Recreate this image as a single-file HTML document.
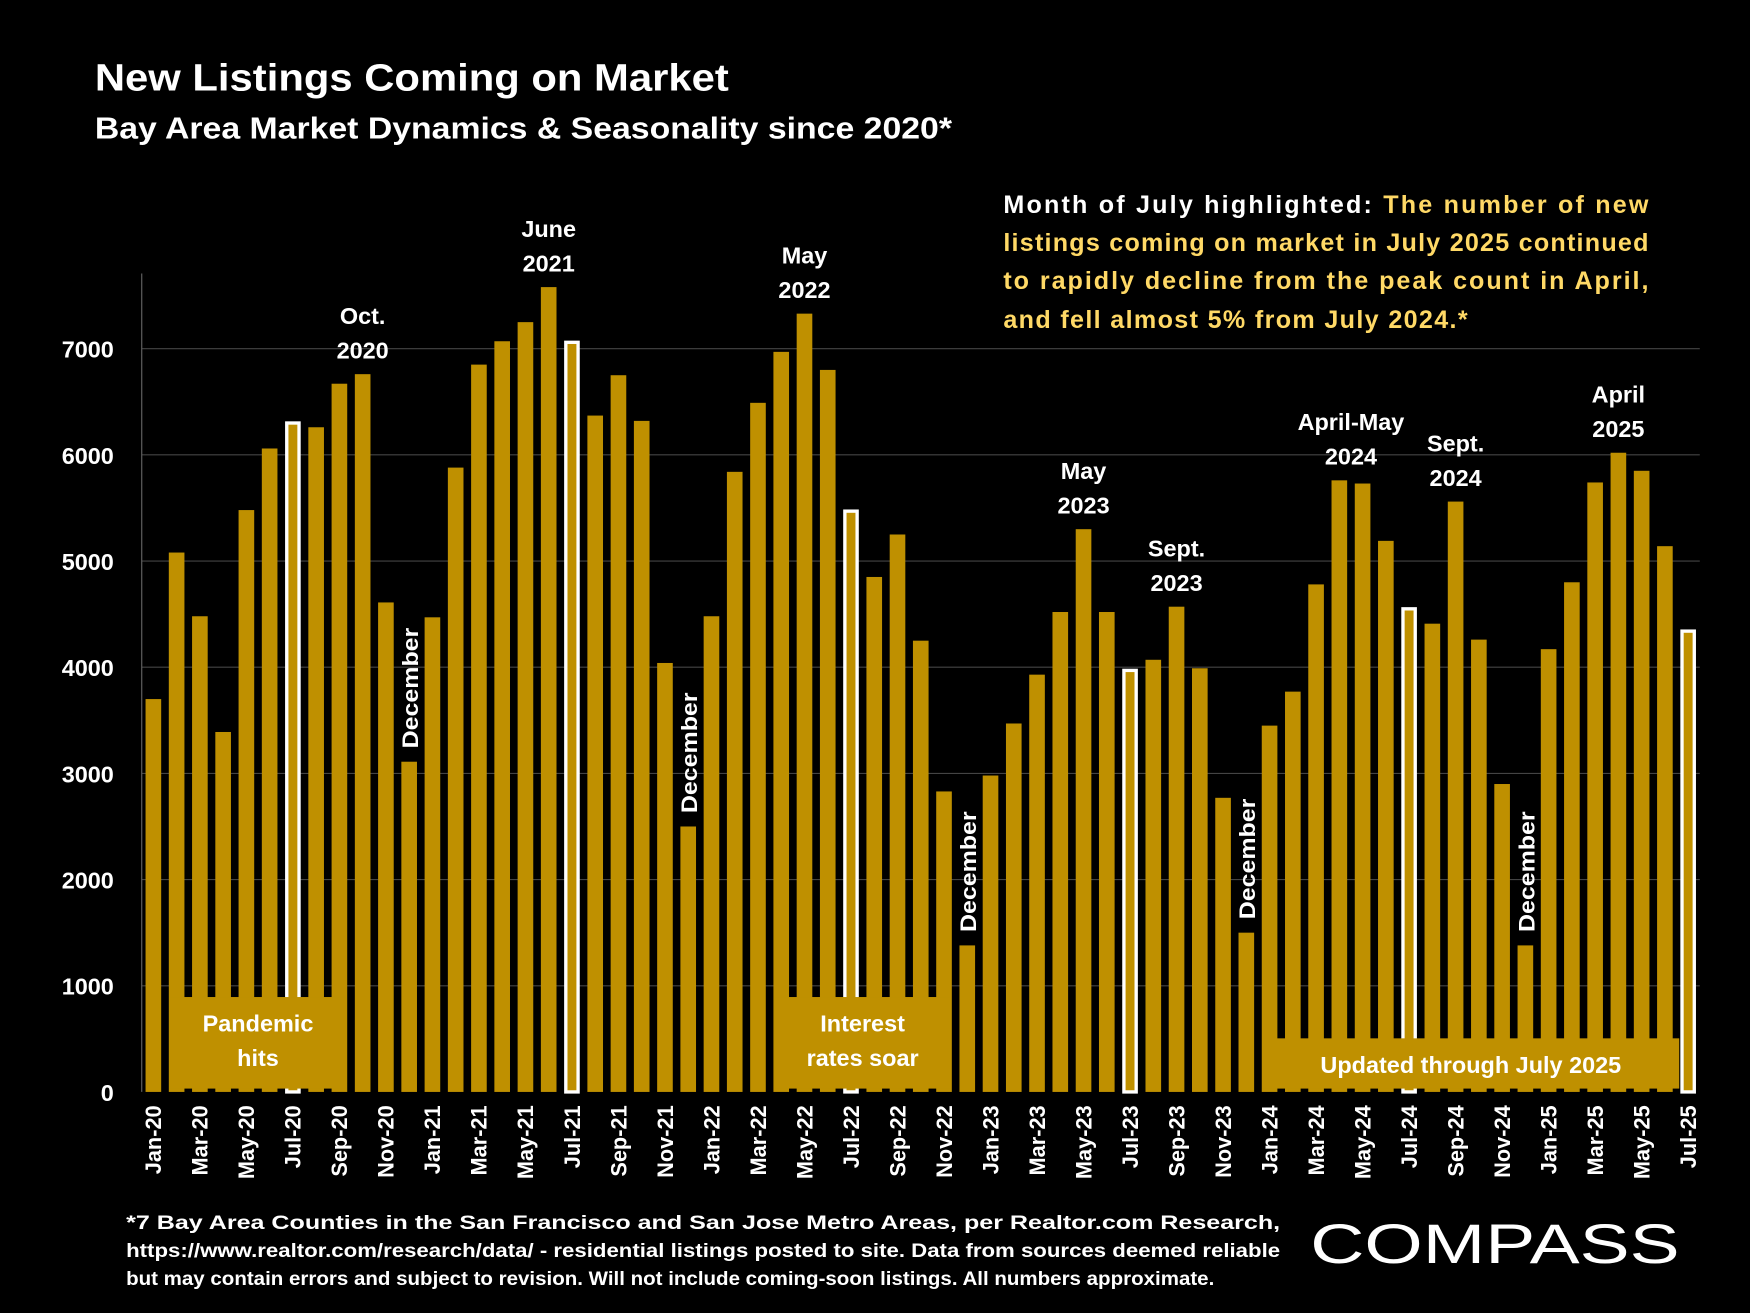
<!DOCTYPE html>
<html><head><meta charset="utf-8"><style>
html,body{margin:0;padding:0;background:#000;}
svg{display:block;}
text{font-family:"Liberation Sans",sans-serif;font-weight:bold;}
</style></head><body>
<svg id="chart" width="1750" height="1313" viewBox="0 0 1568 1176" preserveAspectRatio="none" xmlns="http://www.w3.org/2000/svg">
<rect width="1568" height="1176" fill="#000"/>
<text x="85" y="81" font-size="34" fill="#fff" textLength="568" lengthAdjust="spacingAndGlyphs">New Listings Coming on Market</text>
<text x="85" y="124" font-size="27" fill="#fff" textLength="768" lengthAdjust="spacingAndGlyphs">Bay Area Market Dynamics &amp; Seasonality since 2020*</text>
<g font-size="22.5" fill="#FFD966">
<text x="899" y="191" textLength="578" lengthAdjust="spacing"><tspan fill="#fff">Month of July highlighted:</tspan> The number of new</text>
<text x="899" y="225" textLength="578" lengthAdjust="spacing">listings coming on market in July 2025 continued</text>
<text x="899" y="259" textLength="578" lengthAdjust="spacing">to rapidly decline from the peak count in April,</text>
<text x="899" y="294" textLength="416" lengthAdjust="spacing">and fell almost 5% from July 2024.*</text>
</g>
<g id="grid"></g>
<g id="bars"></g>
<g id="overlays"></g>
<g id="labels"></g>
<g font-size="17.5" fill="#fff">
<text x="113" y="1101" textLength="1034" lengthAdjust="spacingAndGlyphs">*7 Bay Area Counties in the San Francisco and San Jose Metro Areas, per Realtor.com Research,</text>
<text x="113" y="1126" textLength="1034" lengthAdjust="spacingAndGlyphs">https://www.realtor.com/research/data/ - residential listings posted to site.  Data from sources deemed reliable</text>
<text x="113" y="1151" textLength="975" lengthAdjust="spacingAndGlyphs">but may contain errors and subject to revision. Will not include coming-soon listings. All numbers approximate.</text>
</g>
<text x="1174" y="1131" font-size="50" fill="#fff" style="font-weight:normal" textLength="331" lengthAdjust="spacingAndGlyphs">COMPASS</text>
</svg>
<script>
const months=["Jan","Feb","Mar","Apr","May","Jun","Jul","Aug","Sep","Oct","Nov","Dec"];
const categories=[];
for(let y=20;y<=25;y++)for(let m=0;m<12;m++){if(y===25&&m>6)break;categories.push(months[m]+"-"+y);}
const values=[3700,5080,4480,3390,5480,6060,6300,6260,6670,6760,4610,3110,
4470,5880,6850,7070,7250,7580,7060,6370,6750,6320,4040,2500,
4480,5840,6490,6970,7330,6800,5470,4850,5250,4250,2830,1380,
2980,3470,3930,4520,5300,4520,3970,4070,4570,3990,2770,1500,
3450,3770,4780,5760,5730,5190,4550,4410,5560,4260,2900,1380,
4170,4800,5740,6020,5850,5140,4340];
const yTicks=[0,1000,2000,3000,4000,5000,6000,7000];
const callouts=[["Oct-20",["Oct.","2020"]],["Jun-21",["June","2021"]],["May-22",["May","2022"]],["May-23",["May","2023"]],["Sep-23",["Sept.","2023"]],["Apr-24",["April-May","2024"],"May-24"],["Sep-24",["Sept.","2024"]],["Apr-25",["April","2025"]]];
const NS="http://www.w3.org/2000/svg";
const X0=127,X1=1523,Y0=978,YK=0.0951;
const slot=(X1-X0)/categories.length;
const xc=i=>X0+slot*(i+0.5);
const y=v=>Y0-v*YK;
function mk(tag,attrs,parent){const e=document.createElementNS(NS,tag);for(const k in attrs)e.setAttribute(k,attrs[k]);parent.appendChild(e);return e;}
const grid=document.getElementById('grid'),bars=document.getElementById('bars'),ov=document.getElementById('overlays'),lab=document.getElementById('labels');
yTicks.forEach(t=>{
 if(t>0){const l=mk('line',{x1:X0,x2:X1,y1:y(t),y2:y(t),stroke:'#444','stroke-width':1},grid);
 
 }
 const tx=mk('text',{x:102,y:y(t)+8,'font-size':21,fill:'#fff','text-anchor':'end'},grid);tx.textContent=t;
 
 
});
const ax=mk('line',{x1:X0,x2:X0,y1:245,y2:Y0,stroke:'#666','stroke-width':1},grid);


const bw=14;
values.forEach((v,i)=>{
 const jul=categories[i].startsWith('Jul');
 const r=mk('rect',{x:xc(i)-bw/2,y:y(v),width:bw,height:v*YK,fill:'#BF9000'},bars);
 if(jul){r.setAttribute('stroke','#fff');r.setAttribute('stroke-width',3);r.setAttribute('x',xc(i)-bw/2+1.5);r.setAttribute('width',bw-3);}
 
 
 if(i%2===0){const t=mk('text',{x:0,y:0,'font-size':19.5,fill:'#fff','text-anchor':'end',transform:`translate(${xc(i)+7},${990}) rotate(-90)`},lab);t.textContent=categories[i];
 
 }
 if(categories[i].startsWith('Dec')){const t=mk('text',{x:0,y:0,'font-size':20,fill:'#fff',transform:`translate(${xc(i)+8},${y(v)-12}) rotate(-90)`,textLength:108,lengthAdjust:'spacingAndGlyphs'},lab);t.textContent='December';
 
 }
});
const box=(a,b,top,lines,name,endX)=>{
 const x1=X0+slot*a+4,x2=endX||(X0+slot*(b+1)-4);
 const r=mk('rect',{x:x1,y:top,width:x2-x1,height:Y0-3-top,fill:'#BF9000'},ov);
 
 
 lines.forEach((s,k)=>{const t=mk('text',{x:(x1+x2)/2,y:top+(lines.length===1?31:31+k*31),'font-size':21,fill:'#fff','text-anchor':'middle'},ov);t.textContent=s;
 
 });
};
box(1,8,893,["Pandemic","hits"],'pandemic-hits-box');
box(27,34,893,["Interest","rates soar"],'interest-rates-box');
box(48,65,930,["Updated through July 2025"],'updated-through-box',xc(66)-bw/2-1);
callouts.forEach(c=>{
 const i=categories.indexOf(c[0]);const j=c[2]?categories.indexOf(c[2]):i;
 const cx=c[2]?(xc(i)+xc(j))/2:xc(i);
 const yy=y(Math.max(values[i],values[j]))-14;
 c[1].forEach((s,k)=>{const t=mk('text',{x:cx,y:yy-(c[1].length-1-k)*31,'font-size':21,fill:'#fff','text-anchor':'middle'},lab);t.textContent=s;
 
 });
});
</script>
</body></html>
